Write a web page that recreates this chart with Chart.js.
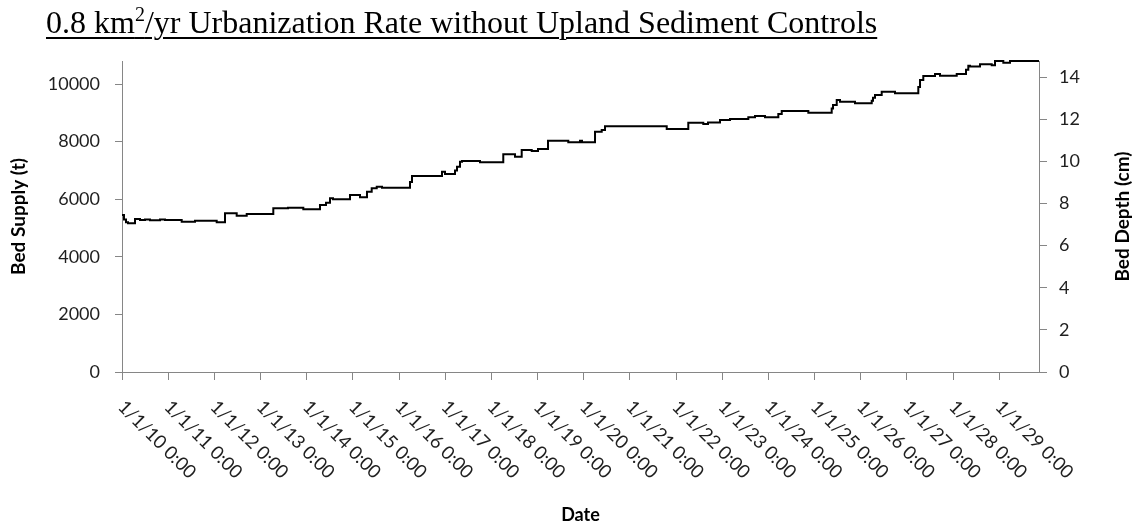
<!DOCTYPE html>
<html>
<head>
<meta charset="utf-8">
<script src="https://cdn.jsdelivr.net/npm/chart.js@4.4.1/dist/chart.umd.min.js"></script>
<style>
  html, body { margin: 0; padding: 0; background: #fff; }
  #wrap { position: relative; width: 1142px; height: 529px; overflow: hidden; }
  #title {
    position: absolute; left: 46px; top: 6px;
    font-family: "Liberation Serif", "Times New Roman", serif;
    font-size: 32px; line-height: 32px; color: #000; white-space: nowrap;
    text-decoration: underline; text-decoration-thickness: 2px; text-underline-offset: 4px;
  }
  #title sup { font-size: 20px; line-height: 0; vertical-align: 12px; }
  #c { position: absolute; left: 0; top: 0; }
</style>
</head>
<body>
<div id="wrap">
  <canvas id="c" width="1142" height="529"></canvas>
  <div id="title">0.8 km<sup>2</sup>/yr Urbanization Rate without Upland Sediment Controls</div>
</div>
<script>
// Years elapsed since 1/1/1910 at which the bed supply changes
const yearOffsets = [
  0, 0.043, 0.087, 0.130, 0.282, 0.390, 0.498, 0.606, 0.823, 0.931,
  1.293, 1.581, 2.051, 2.231, 2.484, 2.701, 3.277, 3.595, 3.927, 4.288,
  4.418, 4.505, 4.570, 4.938, 5.155, 5.306, 5.408, 5.517, 5.631, 6.238,
  6.281, 6.931, 6.996, 7.212, 7.256, 7.321, 7.364, 7.754, 8.258, 8.512,
  8.657, 8.874, 9.010, 9.227, 9.666, 9.920, 9.963, 10.245, 10.390, 10.461,
  11.798, 12.265, 12.590, 12.692, 12.952, 13.169, 13.565, 13.710, 13.927, 14.215,
  14.289, 14.865, 15.371, 15.400, 15.480, 15.551, 15.876, 16.238, 16.266, 16.309,
  16.454, 16.742, 17.247, 17.284, 17.355, 17.609, 17.717, 18.079, 18.280, 18.330,
  18.367, 18.583, 18.837, 18.908, 19.088, 19.233, 19.861
];

// Bed supply (t) from each of those times onward
const bedSupply = [
  5451, 5300, 5200, 5163, 5312, 5278, 5300, 5270, 5300, 5280,
  5220, 5255, 5197, 5509, 5428, 5486, 5683, 5706, 5648, 5799,
  5880, 6030, 6000, 6146, 6065, 6261, 6377, 6435, 6400, 6600,
  6806, 6955, 6875, 7000, 7128, 7302, 7326, 7280, 7558, 7476,
  7708, 7674, 7743, 8031, 7975, 8031, 7975, 8340, 8403, 8530,
  8438, 8657, 8611, 8668, 8750, 8790, 8843, 8889, 8843, 8960,
  9062, 9004, 9150, 9270, 9444, 9387, 9329, 9420, 9525, 9618,
  9734, 9676, 9900, 10139, 10278, 10347, 10289, 10347, 10500, 10636,
  10610, 10683, 10650, 10799, 10741, 10799, 10799
];

// Date axis ticks (yearly) and their labels
const tickYears = [0, 1, 2, 3, 4, 5, 6, 7, 8, 9, 10, 11, 12, 13, 14, 15, 16, 17, 18, 19];
const tickLabels = [
  '1/1/10 0:00', '1/1/11 0:00', '1/1/12 0:00', '1/1/13 0:00', '1/1/14 0:00',
  '1/1/15 0:00', '1/1/16 0:00', '1/1/17 0:00', '1/1/18 0:00', '1/1/19 0:00',
  '1/1/20 0:00', '1/1/21 0:00', '1/1/22 0:00', '1/1/23 0:00', '1/1/24 0:00',
  '1/1/25 0:00', '1/1/26 0:00', '1/1/27 0:00', '1/1/28 0:00', '1/1/29 0:00'
];
const xEnd = 19.861;

// Left axis: bed supply (t); right axis: the same bed expressed as depth (cm)
const supplyTicks = [0, 2000, 4000, 6000, 8000, 10000];
const depthTicks = [0, 2, 4, 6, 8, 10, 12, 14];
const supplyMax = 10800;
const depthMax = 14.76;

const W = 1142, H = 529;
const AXIS_GREY = '#868686';
const TEXT = '#1f1f1f';
const FONT = 'Lato, "Open Sans", sans-serif';

// Rotated date labels (reading downward to the right) and the right-hand axis title
const extraText = {
  id: 'extraText',
  afterDraw(chart) {
    const { ctx } = chart;
    const x = chart.scales.x;
    ctx.save();
    ctx.fillStyle = TEXT;
    ctx.font = '18.5px ' + FONT;
    ctx.textAlign = 'left';
    ctx.textBaseline = 'alphabetic';
    tickYears.forEach((v, i) => {
      const px = x.getPixelForValue(v);
      ctx.save();
      ctx.translate(px - 5, x.top + 36);
      ctx.rotate(Math.PI / 4);
      ctx.fillText(tickLabels[i], 0, 0);
      ctx.restore();
    });
    const y2 = chart.scales.y2;
    ctx.fillStyle = '#000';
    ctx.font = 'bold 19px ' + FONT;
    ctx.textAlign = 'center';
    ctx.textBaseline = 'middle';
    ctx.translate(1123, (y2.top + y2.bottom) / 2);
    ctx.rotate(-Math.PI / 2);
    ctx.fillText('Bed Depth (cm)', 0, 0);
    ctx.restore();
  }
};

new Chart(document.getElementById('c'), {
  type: 'line',
  data: {
    datasets: [{
      data: yearOffsets.map((t, i) => ({ x: t, y: bedSupply[i] })),
      yAxisID: 'y',
      borderColor: '#000',
      borderWidth: 2,
      pointRadius: 0,
      stepped: true,
      fill: false,
      clip: 4
    }]
  },
  options: {
    responsive: false,
    animation: false,
    devicePixelRatio: 1,
    layout: { padding: { top: 61, left: 0, right: 0, bottom: 0 } },
    plugins: { legend: { display: false }, tooltip: { enabled: false } },
    scales: {
      x: {
        type: 'linear',
        min: 0,
        max: xEnd,
        afterBuildTicks: s => { s.ticks = tickYears.map(v => ({ value: v })); },
        afterFit: s => { s.height = H - 372; },
        grid: { drawOnChartArea: false, drawTicks: true, tickLength: 8, color: AXIS_GREY },
        border: { color: AXIS_GREY, width: 1 },
        ticks: { display: false },
        title: {
          display: true, text: 'Date', color: '#000',
          font: { family: FONT, size: 18, weight: 'bold' },
          padding: { top: 0, bottom: 3 }
        }
      },
      y: {
        position: 'left',
        min: 0,
        max: supplyMax,
        afterBuildTicks: s => { s.ticks = supplyTicks.map(v => ({ value: v })); },
        afterFit: s => { s.width = 122; },
        grid: { drawOnChartArea: false, drawTicks: true, tickLength: 7, color: AXIS_GREY },
        border: { color: AXIS_GREY, width: 1 },
        ticks: { color: TEXT, padding: 15, font: { family: FONT, size: 18 }, callback: v => String(v) },
        title: {
          display: true, text: 'Bed Supply (t)', color: '#000',
          font: { family: FONT, size: 19, weight: 'bold' },
          padding: { top: 7, bottom: 0 }
        }
      },
      y2: {
        position: 'right',
        min: 0,
        max: depthMax,
        afterBuildTicks: s => { s.ticks = depthTicks.map(v => ({ value: v })); },
        afterFit: s => { s.width = W - 1039; },
        grid: { drawOnChartArea: false, drawTicks: true, tickLength: 8, color: AXIS_GREY },
        border: { color: AXIS_GREY, width: 1 },
        ticks: { color: TEXT, padding: 12, font: { family: FONT, size: 18 }, callback: v => String(v) }
      }
    }
  },
  plugins: [extraText]
});
</script>
</body>
</html>
